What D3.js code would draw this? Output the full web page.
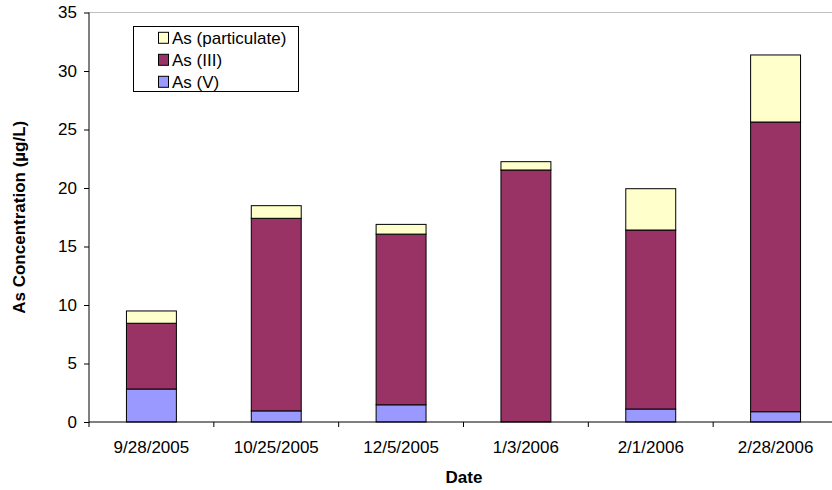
<!DOCTYPE html>
<html>
<head>
<meta charset="utf-8">
<script src="https://cdn.jsdelivr.net/npm/d3@7"></script>
<style>
  body { margin: 0; background: #fff; }
  svg { display: block; font-family: "Liberation Sans", Arial, sans-serif; }
</style>
</head>
<body>
<svg id="chart" width="832" height="490"></svg>
<script>
const dates = ["9/28/2005", "10/25/2005", "12/5/2005", "1/3/2006", "2/1/2006", "2/28/2006"];
const asV = [2.82, 0.95, 1.47, 0, 1.11, 0.88];
const asIII = [5.62, 16.46, 14.59, 21.54, 15.30, 24.76];
const asPart = [1.05, 1.08, 0.83, 0.71, 3.53, 5.73];
const seriesNames = ["As (V)", "As (III)", "As (particulate)"];
const seriesColors = ["#9999FF", "#993366", "#FFFFCC"];
const yTicks = [0, 5, 10, 15, 20, 25, 30, 35];

const svg = d3.select("#chart");
const plotLeft = 89, plotRight = 838, plotTop = 12.5, plotBottom = 422;
const fs = 17;

const x = d3.scaleBand().domain(dates).range([plotLeft, plotRight]).paddingInner(0.6).paddingOuter(0.3);
const y = d3.scaleLinear().domain([0, 35]).range([plotBottom, plotTop]);

const rows = dates.map((d, i) => ({ date: d, v: asV[i], iii: asIII[i], p: asPart[i] }));
const stack = d3.stack().keys(["v", "iii", "p"])(rows);

// top border of plot area
svg.append("line").attr("x1", plotLeft).attr("x2", 832).attr("y1", plotTop).attr("y2", plotTop)
  .attr("stroke", "#c0c0c0").attr("stroke-width", 1);

// bars
stack.forEach((layer, li) => {
  svg.append("g").selectAll("rect").data(layer).join("rect")
    .attr("x", d => x(d.data.date))
    .attr("width", x.bandwidth())
    .attr("y", d => y(d[1]))
    .attr("height", d => Math.max(0, y(d[0]) - y(d[1])))
    .attr("fill", seriesColors[li])
    .attr("stroke", "#000")
    .attr("stroke-width", 1)
    .attr("display", d => (d[1] - d[0]) > 0 ? null : "none");
});

// y axis
const yAxis = d3.axisLeft(y).tickValues(yTicks).tickSize(5).tickPadding(7).tickFormat(d3.format("d"));
const gy = svg.append("g").attr("transform", `translate(${plotLeft},0)`).call(yAxis);
gy.select(".domain").attr("stroke", "#000").attr("d", `M0,${plotTop}V${plotBottom}`);
gy.selectAll(".tick line").attr("stroke", "#000");
gy.selectAll(".tick text").attr("font-size", fs).attr("fill", "#000").attr("font-family", "Liberation Sans, Arial, sans-serif");

// x axis
svg.append("line").attr("x1", plotLeft).attr("x2", plotRight).attr("y1", plotBottom).attr("y2", plotBottom).attr("stroke", "#000");
const step = x.step();
const boundaries = dates.map(d => x(d) - x.paddingInner() * step / 2)
  .concat([x(dates[dates.length - 1]) + x.bandwidth() + x.paddingInner() * step / 2]);
svg.append("g").selectAll("line").data(boundaries).join("line")
  .attr("x1", d => d).attr("x2", d => d).attr("y1", plotBottom).attr("y2", plotBottom + 5).attr("stroke", "#000");
svg.append("g").selectAll("text").data(dates).join("text")
  .attr("x", d => x(d) + x.bandwidth() / 2)
  .attr("y", 453)
  .attr("text-anchor", "middle")
  .attr("font-size", fs)
  .text(d => d);

// axis titles
svg.append("text").attr("x", 464).attr("y", 483)
  .attr("text-anchor", "middle").attr("font-size", fs).attr("font-weight", "bold")
  .text("Date");
svg.append("text").attr("transform", `translate(25,${(plotTop + plotBottom) / 2}) rotate(-90)`)
  .attr("text-anchor", "middle").attr("font-size", fs).attr("font-weight", "bold")
  .text("As Concentration (µg/L)");

// legend
const lg = svg.append("g");
lg.append("rect").attr("x", 133.5).attr("y", 26.5).attr("width", 165).attr("height", 65)
  .attr("fill", "#fff").attr("stroke", "#000");
const legendOrder = [2, 1, 0];
legendOrder.forEach((si, k) => {
  const cy = 37.8 + k * 22;
  lg.append("rect").attr("x", 158.5).attr("y", cy - 5.5).attr("width", 10).attr("height", 11)
    .attr("fill", seriesColors[si]).attr("stroke", "#000");
  lg.append("text").attr("x", 172).attr("y", cy + 6).attr("font-size", fs).text(seriesNames[si]);
});
</script>
</body>
</html>
